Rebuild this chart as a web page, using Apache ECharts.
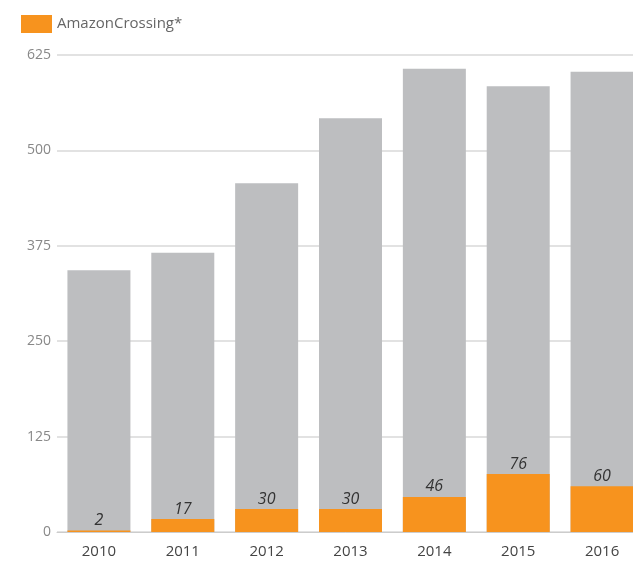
<!DOCTYPE html>
<html><head><meta charset="utf-8">
<script src="https://cdn.jsdelivr.net/npm/echarts@6/dist/echarts.min.js"></script>
<style>html,body{margin:0;padding:0;background:#fff}#c{width:633px;height:566px}</style>
</head><body><div id="c"></div>
<script>
const years = ['2010','2011','2012','2013','2014','2015','2016'];
const totalTranslations = [343, 366, 457, 542, 607, 584, 603];
const amazonCrossing = [2, 17, 30, 30, 46, 76, 60];
const yTicks = [0, 125, 250, 375, 500, 625];

const chart = echarts.init(document.getElementById('c'));
chart.setOption({
  animation: false,
  legend: {
    data: ['AmazonCrossing*'],
    icon: 'rect',
    left: 16, top: 10,
    itemWidth: 31, itemHeight: 18, itemGap: 10,
    textStyle: { color: '#666', fontSize: 15, fontFamily: 'Open Sans' }
  },
  grid: { left: 57, width: 587, top: 55, bottom: 34, outerBoundsMode: 'none' },
  xAxis: {
    type: 'category', data: years,
    axisLine: { lineStyle: { color: '#ccc' } },
    axisTick: { show: false },
    axisLabel: { color: '#444', fontSize: 15, fontFamily: 'Open Sans', margin: 12 }
  },
  yAxis: {
    type: 'value', min: yTicks[0], max: yTicks[yTicks.length - 1], interval: 125,
    axisLine: { show: false }, axisTick: { show: false },
    axisLabel: { color: '#888', fontSize: 14, fontFamily: 'Open Sans', margin: 6 },
    splitLine: { lineStyle: { color: '#e2e2e2', width: 2 } }
  },
  series: [
    {
      name: 'Total', type: 'bar', data: totalTranslations,
      barWidth: 63, barGap: '-100%',
      itemStyle: { color: '#bdbec0' }
    },
    {
      name: 'AmazonCrossing*', type: 'bar', data: amazonCrossing,
      barWidth: 63,
      itemStyle: { color: '#f7931e' },
      label: { show: true, position: 'top', distance: 2, color: '#333', fontSize: 16, fontFamily: 'Open Sans', fontStyle: 'italic' }
    }
  ]
});
</script></body></html>
